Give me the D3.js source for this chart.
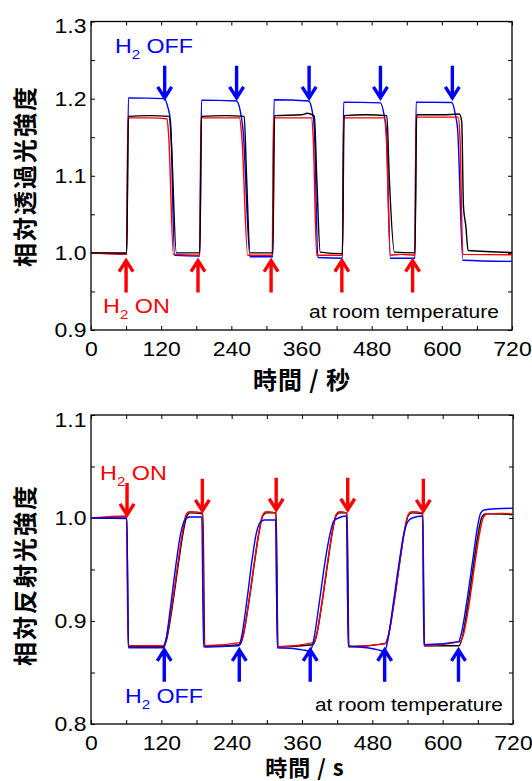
<!DOCTYPE html>
<html>
<head>
<meta charset="utf-8">
<script src="https://cdn.jsdelivr.net/npm/d3@7"></script>
<style>
  body { margin: 0; background: #fff; }
  svg { display: block; }
  .tick text { font-family: "Liberation Sans", Arial, sans-serif; }
</style>
</head>
<body>
<svg width="532" height="781"></svg>
<script>
// ---- data: [time (s), relative intensity] ----
const xTicks = [0, 60, 120, 180, 240, 300, 360, 420, 480, 540, 600, 660, 720];

// transmission (top panel)
const transBlack = [[0,1.0],[61,1.0],[64,1.177],[100,1.178],[134,1.177],[137,1.15],[146,1.0],[186,1.0],[189,1.177],[230,1.178],[262,1.177],[266,1.1],[272,1.0],
  [311,1.0],[314,1.178],[360,1.179],[370,1.181],[382,1.177],[386,1.1],[392,1.001],[430,0.999],[433,1.178],[470,1.179],[506,1.178],[510,1.1],[519,1.001],
  [554,1.0],[557,1.179],[600,1.179],[630,1.18],[634,1.17],[637,1.06],[641,1.035],[645,1.003],[720,1.0005]];
const transRed = [[0,1.0],[61,0.998],[63,1.175],[100,1.175],[130,1.174],[133,1.15],[141,0.998],[186,0.997],[188,1.175],[254,1.175],[258,1.15],[268,0.997],
  [310,0.997],[312,1.175],[377,1.175],[380,1.15],[386,0.997],[430,0.997],[432,1.175],[502,1.175],[505,1.15],[512,0.997],[530,0.998],
  [554,0.997],[556,1.176],[628,1.176],[631,1.15],[636,0.998],[720,0.9975]];
const transBlue = [[0,1.0],[61,0.999],[64,1.201],[125,1.2],[131,1.19],[136,1.17],[143,0.997],[186,0.996],[189,1.198],[249,1.197],[255,1.185],[260,1.16],[272,0.995],
  [311,0.995],[313,1.1985],[372,1.197],[378,1.185],[382,1.16],[388,0.994],[430,0.993],[432,1.1955],[495,1.1945],[501,1.18],[505,1.16],[512,0.993],
  [554,0.993],[556,1.1955],[617,1.195],[623,1.18],[627,1.16],[636,0.9905],[720,0.989]];
const transOnArrows = [60, 183, 308, 429, 550];
const transOnTip = 0.990;
const transOffArrows = [126, 249, 373, 495, 618];
const transOffTip = 1.201;

// reflection (bottom panel)
const reflBlack = [[0,1.0],[61,0.9995],[64,0.875],
  [124,0.875],[129,0.882],[139,0.915],[149,0.955],[157,0.985],[163,1.001],[169,1.005],[191,1.004],[194,0.875],
  [254,0.877],[259,0.884],[269,0.917],[279,0.957],[287,0.987],[293,1.002],[299,1.005],[316,1.005],[319,0.875],
  [379,0.877],[384,0.884],[394,0.917],[404,0.957],[412,0.987],[418,1.002],[424,1.005],[437,1.005],[440,0.875],
  [502,0.878],[507,0.885],[517,0.918],[527,0.958],[535,0.988],[541,1.002],[547,1.005],[566,1.004],[569,0.876],
  [628,0.876],[633,0.883],[643,0.916],[653,0.956],[661,0.986],[667,1.001],[673,1.004],[720,1.0035]];
const reflRed = [[0,1.0],[61,1.002],[63,0.876],[123,0.876],[128,0.882],[138,0.915],[148,0.955],[156,0.986],[162,1.003],[168,1.006],[190,1.005],[193,0.876],
  [254,0.879],[259,0.885],[269,0.918],[279,0.958],[287,0.988],[293,1.003],[299,1.006],[315,1.005],[318,0.875],
  [379,0.879],[384,0.885],[394,0.918],[404,0.958],[412,0.988],[418,1.003],[424,1.006],[436,1.005],[439,0.875],
  [502,0.878],[507,0.885],[517,0.918],[527,0.958],[535,0.988],[541,1.003],[547,1.006],[566,1.005],[568,0.876],
  [629,0.880],[635,0.886],[645,0.916],[655,0.956],[663,0.985],[669,1.0],[676,1.004],[700,1.0045],[720,1.004]];
const reflBlue = [[0,1.0],[61,1.0],[64,0.874],[124,0.874],[128,0.882],[136,0.915],[145,0.955],[153,0.985],[160,0.998],[168,1.001],[189,1.001],[192,0.875],
  [252,0.876],[257,0.885],[266,0.92],[275,0.96],[282,0.985],[289,0.996],[296,0.998],[315,0.998],[318,0.874],
  [340,0.8735],[360,0.872],[374,0.871],[380,0.882],[390,0.92],[400,0.96],[408,0.985],[414,0.997],[422,1.0],[436,1.002],[439,0.876],
  [471,0.874],[490,0.872],[501,0.8705],[506,0.880],[516,0.918],[526,0.958],[534,0.985],[540,0.996],[548,1.0],[566,1.002],[568,0.877],
  [627,0.880],[631,0.886],[641,0.918],[651,0.958],[659,0.99],[665,1.005],[672,1.008],[720,1.0095]];
const reflGreen = [[700,1.0045],[720,1.0025]];
const reflOnArrows = [61.5, 190, 316, 438, 567];
const reflOnTips = [1.003, 1.007, 1.008, 1.008, 1.007];
const reflOffArrows = [125, 253, 374, 501, 627];
const reflOffTip = 0.872;

const RED = "#ff0000", BLUE = "#0000ff", BLACK = "#000000", GREEN = "#00cc00";

const svg = d3.select("svg");
const latin = '"Liberation Sans", Arial, sans-serif';
const cjk = '"Noto Sans CJK JP", "Noto Sans CJK SC", sans-serif';

function drawPanel(o) {
  const x = d3.scaleLinear().domain([0, 720]).range([o.left, o.right]);
  const y = d3.scaleLinear().domain(o.yDomain).range([o.bottom, o.top]);
  const g = svg.append("g");

  const fmt = d3.format(".1f");
  const xAxis = d3.axisBottom(x).tickValues(xTicks).tickSizeInner(-4).tickSizeOuter(0).tickPadding(12)
    .tickFormat(d => d % 120 === 0 ? d : "");
  const xTop = d3.axisTop(x).tickValues(xTicks).tickSizeInner(-4).tickSizeOuter(0).tickFormat("");
  const yAxis = d3.axisLeft(y).tickValues(o.yTicks).tickSizeInner(-4).tickSizeOuter(0).tickPadding(4)
    .tickFormat(d => Math.round(d * 100) % 10 === 0 ? fmt(d) : "");
  const yRight = d3.axisRight(y).tickValues(o.yTicks).tickSizeInner(-4).tickSizeOuter(0).tickFormat("");

  const gx = g.append("g").attr("transform", `translate(0,${o.bottom})`).call(xAxis);
  g.append("g").attr("transform", `translate(0,${o.top})`).call(xTop);
  const gy = g.append("g").attr("transform", `translate(${o.left},0)`).call(yAxis);
  g.append("g").attr("transform", `translate(${o.right},0)`).call(yRight);
  g.selectAll(".domain").remove();
  g.selectAll(".tick line").attr("stroke", "#000").attr("stroke-width", 1);
  gx.selectAll("text").attr("font-size", 20).attr("fill", "#000").attr("transform", "scale(1.15,1)");
  gy.selectAll("text").attr("font-size", 20).attr("fill", "#000").attr("transform", "scale(1.15,1)");
  // the topmost value label sits a little below its tick, as in the picture
  gy.selectAll(".tick").filter(d => Math.abs(d - o.yDomain[1]) < 1e-9)
    .select("text").attr("y", 5);

  g.append("rect").attr("x", o.left).attr("y", o.top)
    .attr("width", o.right - o.left).attr("height", o.bottom - o.top)
    .attr("fill", "none").attr("stroke", "#000").attr("stroke-width", 1.3);

  const line = d3.line().x(d => x(d[0])).y(d => y(d[1])).curve(d3.curveMonotoneX);
  o.series.forEach(s => {
    g.append("path").datum(s.data).attr("d", line)
      .attr("fill", "none").attr("stroke", s.color).attr("stroke-width", 1.4);
  });

  // arrows: tip at (time, value), shaft of fixed pixel length
  o.arrows.forEach(a => {
    a.times.forEach((t, i) => {
      const tip = Array.isArray(a.tip) ? a.tip[i] : a.tip;
      const px = x(t), py = y(tip), s = a.dir; // dir: -1 points down, +1 points up
      const tail = py + s * 32;
      g.append("path")
        .attr("d", `M${px},${tail}L${px},${py}M${px - 7},${py + s * 11}L${px},${py}L${px + 7},${py + s * 11}`)
        .attr("fill", "none").attr("stroke", a.color).attr("stroke-width", 3.4)
        .attr("stroke-linejoin", "miter");
    });
  });

  // axis titles
  g.append("text").attr("transform", `translate(34,${o.yLabelY}) rotate(-90)`)
    .attr("text-anchor", "middle").attr("font-family", cjk).attr("font-weight", 700)
    .attr("font-size", 24).attr("letter-spacing", 2).text(o.yLabel);
  g.append("text").attr("x", o.xLabelX).attr("y", o.xLabelY)
    .attr("text-anchor", "middle").attr("font-family", cjk).attr("font-weight", 700)
    .attr("font-size", o.xLabelSize).attr("letter-spacing", 1).text(o.xLabel);

  o.notes.forEach(n => note(g, n));
}

// a text stretched to the width it has in the picture
function note(g, n) {
  const t = g.append("text").attr("font-family", latin).attr("font-size", n.size).attr("fill", n.color);
  if (n.sub) {
    t.append("tspan").text("H");
    t.append("tspan").attr("font-size", n.size * 0.65).attr("dy", n.size * 0.28).text("2");
    t.append("tspan").attr("dy", -n.size * 0.28).text(" " + n.text);
  } else {
    t.text(n.text);
  }
  const w = t.node().getBBox().width;
  t.attr("transform", `translate(${n.x},${n.y}) scale(${n.w / w},1)`);
}

drawPanel({
  left: 91, right: 512, top: 21.5, bottom: 330,
  yDomain: [0.9, 1.3], yTicks: d3.range(18, 27).map(d => d * 0.05),
  series: [
    { data: transBlue, color: BLUE },
    { data: transRed, color: RED },
    { data: transBlack, color: BLACK }
  ],
  arrows: [
    { times: transOffArrows, tip: transOffTip, dir: -1, color: BLUE },
    { times: transOnArrows, tip: transOnTip, dir: 1, color: RED }
  ],
  yLabel: "相対透過光強度", yLabelY: 176,
  xLabel: "時間 / 秒", xLabelX: 302, xLabelY: 389, xLabelSize: 24,
  notes: [
    { sub: true, text: "OFF", x: 115, y: 53, w: 78, size: 21, color: BLUE },
    { sub: true, text: "ON", x: 103, y: 313, w: 67, size: 21, color: RED },
    { text: "at room temperature", x: 309, y: 318, w: 190, size: 18.5, color: BLACK }
  ]
});

drawPanel({
  left: 91, right: 513, top: 415, bottom: 724,
  yDomain: [0.8, 1.1], yTicks: d3.range(16, 23).map(d => d * 0.05),
  series: [
    { data: reflGreen, color: GREEN },
    { data: reflBlack, color: BLACK },
    { data: reflRed, color: RED },
    { data: reflBlue, color: BLUE }
  ],
  arrows: [
    { times: reflOnArrows, tip: reflOnTips, dir: -1, color: RED },
    { times: reflOffArrows, tip: reflOffTip, dir: 1, color: BLUE }
  ],
  yLabel: "相対反射光強度", yLabelY: 575,
  xLabel: "時間 / s", xLabelX: 305, xLabelY: 776, xLabelSize: 22,
  notes: [
    { sub: true, text: "ON", x: 100, y: 480, w: 67, size: 21, color: RED },
    { sub: true, text: "OFF", x: 125, y: 703, w: 78, size: 21, color: BLUE },
    { text: "at room temperature", x: 315, y: 711, w: 188, size: 18.5, color: BLACK }
  ]
});
</script>
</body>
</html>
